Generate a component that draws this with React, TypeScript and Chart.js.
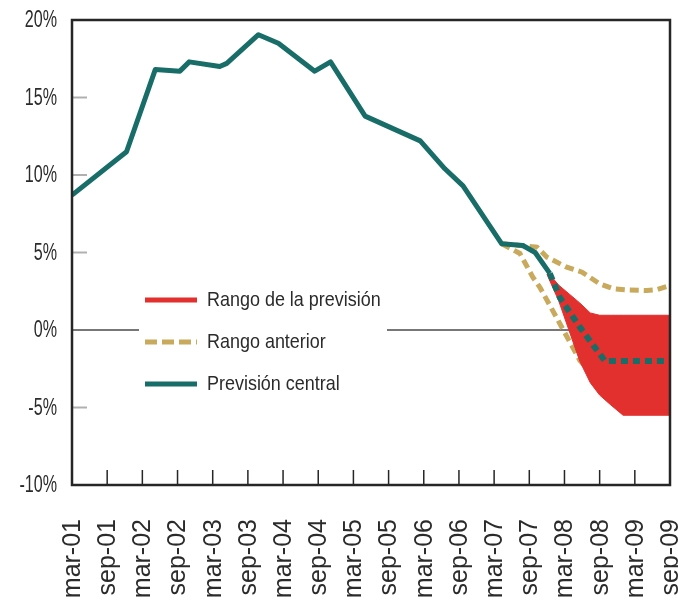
import React, { useEffect, useRef } from "react";
import { Chart, registerables } from "chart.js";

Chart.register(...registerables);

// ---- Data (x = months since mar-01) ----
const xTickLabels = [
  "mar-01", "sep-01", "mar-02", "sep-02", "mar-03", "sep-03", "mar-04", "sep-04", "mar-05",
  "sep-05", "mar-06", "sep-06", "mar-07", "sep-07", "mar-08", "sep-08", "mar-09", "sep-09",
];
const yTickStep = 5;
const yMinValue = -10;
const yMaxValue = 20;
const xMaxMonths = 102;

const centralMonths = [0, 9.3, 14.2, 18.4, 20.0, 25.2, 26.4, 31.8, 35.2, 41.4, 44.1, 50.0, 59.4, 63.6, 66.7, 73.3, 76.9, 79.0, 81.5];
const centralValues = [8.7, 11.5, 16.8, 16.7, 17.3, 17.0, 17.2, 19.05, 18.5, 16.7, 17.3, 13.8, 12.2, 10.4, 9.3, 5.56, 5.45, 5.0, 3.65];

const forecastMonths = [81.5, 83.2, 86.6, 90.9, 102];
const forecastValues = [3.65, 2.1, 0.2, -2.0, -2.0];

const rangeMonths = [81, 83, 86.6, 88.4, 90, 91.8, 94, 102];
const rangeUpper = [3.8, 2.9, 1.75, 1.1, 0.95, 0.95, 0.95, 0.95];
const rangeLower = [3.6, 1.9, -2.0, -3.4, -4.2, -4.8, -5.5, -5.5];

const prevUpperMonths = [73.3, 79.3, 81, 84.4, 87, 90, 92.3, 95, 98, 99.7, 102];
const prevUpperValues = [5.56, 5.35, 4.7, 4.05, 3.73, 2.98, 2.66, 2.58, 2.55, 2.6, 2.87];
const prevLowerMonths = [73.3, 76.4, 78.6, 79.8, 83.2, 86.6, 90, 95, 102];
const prevLowerValues = [5.56, 4.94, 3.41, 2.76, 0.42, -1.95, -3.4, -4.5, -4.5];

const legendLabels = ["Rango de la previsión", "Rango anterior", "Previsión central"];

// ---- Styles ----
const TEAL = "#186d68";
const GOLD = "#c9aa5c";
const RED = "#e1302d";
const AXIS = "#262626";
const TEXT = "#2b2b2b";
const FONT = "'Liberation Sans', Arial, Helvetica, sans-serif";

const pts = (xs: number[], ys: number[]) => xs.map((x, i) => ({ x, y: ys[i] }));

// draws text horizontally condensed (the reference uses a narrow face)
function narrowText(ctx: CanvasRenderingContext2D, text: string, x: number, y: number, size: number, squeeze: number, align: CanvasTextAlign) {
  ctx.save();
  ctx.translate(x, y);
  ctx.scale(squeeze, 1);
  ctx.font = `${size}px ${FONT}`;
  ctx.textAlign = align;
  ctx.textBaseline = "middle";
  ctx.fillStyle = TEXT;
  ctx.fillText(text, 0, 0);
  ctx.restore();
}

const decorPlugin = {
  id: "decor",
  beforeDatasetsDraw(chart: any) {
    const { ctx, chartArea, scales } = chart;
    const y = scales.y;
    ctx.save();
    // zero line
    const y0 = y.getPixelForValue(0);
    ctx.strokeStyle = "#4a4a4a";
    ctx.lineWidth = 1.5;
    ctx.beginPath();
    ctx.moveTo(chartArea.left, y0);
    ctx.lineTo(chartArea.right, y0);
    ctx.stroke();
    // small y tick marks inside
    ctx.strokeStyle = "#b0b0b0";
    ctx.lineWidth = 2;
    y.ticks.forEach((t: any) => {
      if (t.value === 0 || t.value === yMinValue || t.value === yMaxValue) return;
      const py = y.getPixelForValue(t.value);
      ctx.beginPath();
      ctx.moveTo(chartArea.left, py);
      ctx.lineTo(chartArea.left + 15, py);
      ctx.stroke();
    });
    ctx.restore();
  },
  afterDraw(chart: any) {
    const { ctx, chartArea, scales } = chart;
    const x = scales.x;
    const y = scales.y;
    ctx.save();
    // y tick labels (condensed)
    y.ticks.forEach((t: any) => {
      const py = y.getPixelForValue(t.value);
      narrowText(ctx, `${t.value}%`, chartArea.left - 15, py + 1, 23, 0.7, "right");
    });
    // frame
    ctx.strokeStyle = AXIS;
    ctx.lineWidth = 2.5;
    ctx.strokeRect(chartArea.left, chartArea.top, chartArea.right - chartArea.left, chartArea.bottom - chartArea.top);
    // x ticks pointing inward
    ctx.lineWidth = 1.5;
    x.ticks.forEach((t: any) => {
      const px = x.getPixelForValue(t.value);
      ctx.beginPath();
      ctx.moveTo(px, chartArea.bottom);
      ctx.lineTo(px, chartArea.bottom - 15);
      ctx.stroke();
    });
    // legend
    ctx.fillStyle = "#ffffff";
    ctx.fillRect(139, 278, 248, 124);
    const symbols = [
      { color: RED, dash: [] as number[] },
      { color: GOLD, dash: [12, 5] },
      { color: TEAL, dash: [] as number[] },
    ];
    legendLabels.forEach((label, i) => {
      const ly = 300 + 42 * i;
      ctx.strokeStyle = symbols[i].color;
      ctx.lineWidth = 5;
      ctx.lineCap = "butt";
      ctx.setLineDash(symbols[i].dash);
      ctx.beginPath();
      ctx.moveTo(145, ly);
      ctx.lineTo(197, ly);
      ctx.stroke();
      ctx.setLineDash([]);
      narrowText(ctx, label, 207, ly, 21, 0.855, "left");
    });
    ctx.restore();
  },
};

export default function App() {
  const canvasRef = useRef<HTMLCanvasElement | null>(null);

  useEffect(() => {
    if (!canvasRef.current) return;
    const chart = new Chart(canvasRef.current, {
      type: "line",
      data: {
        datasets: [
          {
            label: legendLabels[2],
            data: pts(centralMonths, centralValues),
            borderColor: TEAL,
            borderWidth: 5,
            pointRadius: 0,
            fill: false,
            order: 1,
            borderJoinStyle: "round",
          },
          {
            label: "Previsión central (proyección)",
            data: pts(forecastMonths, forecastValues),
            borderColor: TEAL,
            borderWidth: 6,
            borderDash: [7, 5],
            pointRadius: 0,
            fill: false,
            order: 0,
          },
          {
            label: legendLabels[0],
            data: pts(rangeMonths, rangeUpper),
            borderColor: RED,
            backgroundColor: RED,
            borderWidth: 1,
            pointRadius: 0,
            fill: "+1",
            order: 2,
          },
          {
            label: legendLabels[0] + " (inferior)",
            data: pts(rangeMonths, rangeLower),
            borderColor: RED,
            borderWidth: 1,
            pointRadius: 0,
            fill: false,
            order: 2,
          },
          {
            label: legendLabels[1],
            data: pts(prevUpperMonths, prevUpperValues),
            borderColor: GOLD,
            borderWidth: 5,
            borderDash: [9, 5],
            pointRadius: 0,
            fill: false,
            order: 3,
          },
          {
            label: legendLabels[1] + " (inferior)",
            data: pts(prevLowerMonths, prevLowerValues),
            borderColor: GOLD,
            borderWidth: 5,
            borderDash: [9, 5],
            pointRadius: 0,
            fill: false,
            order: 3,
          },
        ],
      },
      options: {
        responsive: false,
        animation: false,
        events: [],
        layout: { padding: { top: 20, right: 8, left: 0, bottom: 0 } },
        plugins: {
          legend: { display: false },
          tooltip: { enabled: false },
          title: { display: false },
        },
        scales: {
          x: {
            type: "linear",
            min: 0,
            max: xMaxMonths,
            grid: { display: false },
            border: { display: false },
            afterFit: (s: any) => {
              s.height = 118;
              s.paddingLeft = 0;
              s.paddingRight = 0;
            },
            ticks: {
              stepSize: 6,
              autoSkip: false,
              minRotation: 90,
              maxRotation: 90,
              padding: 26,
              labelOffset: 1,
              color: TEXT,
              font: { family: FONT, size: 25 },
              callback: (v: any) => xTickLabels[Math.round(Number(v) / 6)] ?? "",
            },
          },
          y: {
            type: "linear",
            min: yMinValue,
            max: yMaxValue,
            grid: { display: false },
            border: { display: false },
            afterFit: (s: any) => {
              s.width = 72;
              s.paddingTop = 0;
              s.paddingBottom = 0;
            },
            ticks: {
              display: false,
              stepSize: yTickStep,
              callback: (v: any) => `${v}%`,
            },
          },
        },
      },
      plugins: [decorPlugin],
    });
    return () => chart.destroy();
  }, []);

  return (
    <div style={{ position: "absolute", left: 0, top: 0, width: 678, height: 603, background: "#fff" }}>
      <canvas ref={canvasRef} width={678} height={603} style={{ width: 678, height: 603, display: "block" }} />
    </div>
  );
}
